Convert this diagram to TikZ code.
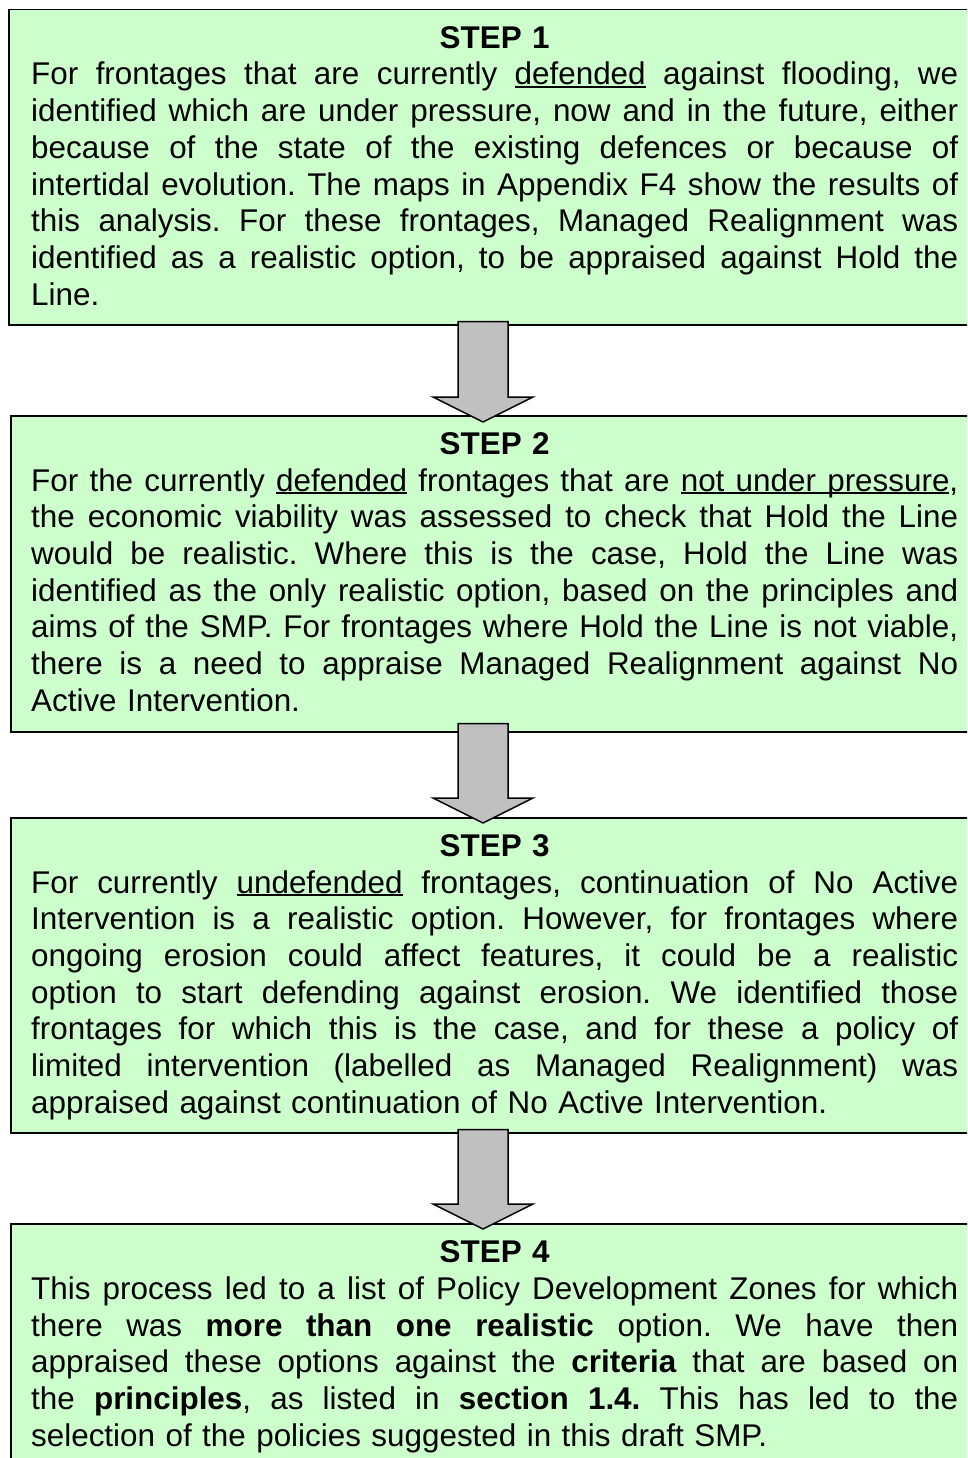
\documentclass[tikz,border=0pt]{standalone}
\usepackage{fontspec}
\setmainfont{Liberation Sans}
\usetikzlibrary{calc}
\definecolor{boxgreen}{HTML}{CCFFCC}
\definecolor{arrowgray}{HTML}{C0C0C0}
\hbadness=10000
% body font
\newcommand{\steptextfont}{\fontsize{31.4pt}{36.7pt}\selectfont\frenchspacing}
\tikzset{
  stepbox/.style={draw=black, line width=1.5pt, fill=boxgreen, rectangle,
    inner sep=0pt, anchor=north west},
  steptext/.style={text width=927pt, inner sep=0pt, anchor=base west,
    font=\steptextfont},
  blockarrow/.style={draw=black, line width=1.5pt, fill=arrowgray, line join=miter}
}
% centred bold heading
\newcommand{\stephead}[1]{{\centering\bfseries #1\par}}
% stretchable interword gap
\newcommand{\jgap}{\hskip 8.73pt plus 1fil\relax}
% a justified line: words are split at spaces and spread over the full width
\ExplSyntaxOn
\seq_new:N \l_steptext_words_seq
\NewDocumentCommand{\jline}{m}
  {
    \seq_set_split:Nnn \l_steptext_words_seq { ~ } {#1}
    \hbox_to_wd:nn { 927pt }
      { \seq_use:Nn \l_steptext_words_seq { \jgap } }
  }
\ExplSyntaxOff
% the last (flush left) line of a paragraph
\newcommand{\lastline}[1]{\hbox{#1}}
% underlined word and underlined stretchable space
\newcommand{\ulw}[1]{\setbox0\hbox{#1}\rlap{\rule[-3.4pt]{\wd0}{2pt}}\box0\relax}
\newcommand{\uls}{\leaders\hrule height -1.4pt depth 3.4pt\hskip 8.73pt plus 1fil\relax}
\begin{document}
\begin{tikzpicture}[x=1pt,y=-1pt]
\useasboundingbox (0,0) rectangle (967,1458);
\clip (0,0) rectangle (967,1458);

% the four step boxes
\node[stepbox, minimum width=967pt, minimum height=315pt] (b1) at (8,9) {};
\node[stepbox, minimum width=965pt, minimum height=316pt] (b2) at (10,415) {};
\node[stepbox, minimum width=965pt, minimum height=315pt] (b3) at (10,817) {};
\node[stepbox, minimum width=965pt, minimum height=247pt] (b4) at (10,1223) {};

% block arrows between consecutive boxes
\draw[blockarrow] let \p1=(b1.south), \p2=(b2.north) in
  (458pt,\y1+4pt) -- (508pt,\y1+4pt) -- (508pt,\y2+18pt) -- (533pt,\y2+18pt)
  -- (483pt,\y2-7pt) -- (433pt,\y2+18pt) -- (458pt,\y2+18pt) -- cycle;
\draw[blockarrow] let \p1=(b2.south), \p2=(b3.north) in
  (458pt,\y1+9pt) -- (508pt,\y1+9pt) -- (508pt,\y2+19pt) -- (533pt,\y2+19pt)
  -- (483pt,\y2-6pt) -- (433pt,\y2+19pt) -- (458pt,\y2+19pt) -- cycle;
\draw[blockarrow] let \p1=(b3.south), \p2=(b4.north) in
  (458pt,\y1+4pt) -- (508pt,\y1+4pt) -- (508pt,\y2+19pt) -- (533pt,\y2+19pt)
  -- (483pt,\y2-6pt) -- (433pt,\y2+19pt) -- (458pt,\y2+19pt) -- cycle;

% step texts
\node[steptext] (t1) at (31,48.3) {\stephead{STEP 1}%
\jline{For frontages that are currently \ulw{defended} against flooding, we}
\jline{identified which are under pressure, now and in the future, either}
\jline{because of the state of the existing defences or because of}
\jline{intertidal evolution. The maps in Appendix F4 show the results of}
\jline{this analysis. For these frontages, Managed Realignment was}
\jline{identified as a realistic option, to be appraised against Hold the}
\lastline{Line.}};

\node[steptext] (t2) at (31,454.3) {\stephead{STEP 2}%
\jline{For the currently \ulw{defended} frontages that are \ulw{not}\uls\ulw{under}\uls\ulw{pressure},}
\jline{the economic viability was assessed to check that Hold the Line}
\jline{would be realistic. Where this is the case, Hold the Line was}
\jline{identified as the only realistic option, based on the principles and}
\jline{aims of the SMP. For frontages where Hold the Line is not viable,}
\jline{there is a need to appraise Managed Realignment against No}
\lastline{Active Intervention.}};

\node[steptext] (t3) at (31,856.3) {\stephead{STEP 3}%
\jline{For currently \ulw{undefended} frontages, continuation of No Active}
\jline{Intervention is a realistic option.\jgap However, for frontages where}
\jline{ongoing erosion could affect features, it could be a realistic}
\jline{option to start defending against erosion. We identified those}
\jline{frontages for which this is the case, and for these a policy of}
\jline{limited intervention (labelled as Managed Realignment) was}
\lastline{appraised against continuation of No Active Intervention.}};

\node[steptext] (t4) at (31,1262.6) {\stephead{STEP 4}%
\jline{This process led to a list of Policy Development Zones for which}
\jline{there was \textbf{more} \textbf{than} \textbf{one} \textbf{realistic} option. We have then}
\jline{appraised these options against the \textbf{criteria} that are based on}
\jline{the \textbf{principles}, as listed in \textbf{section} \textbf{1.4.} This has led to the}
\lastline{selection of the policies suggested in this draft SMP.}};
\end{tikzpicture}
\end{document}
